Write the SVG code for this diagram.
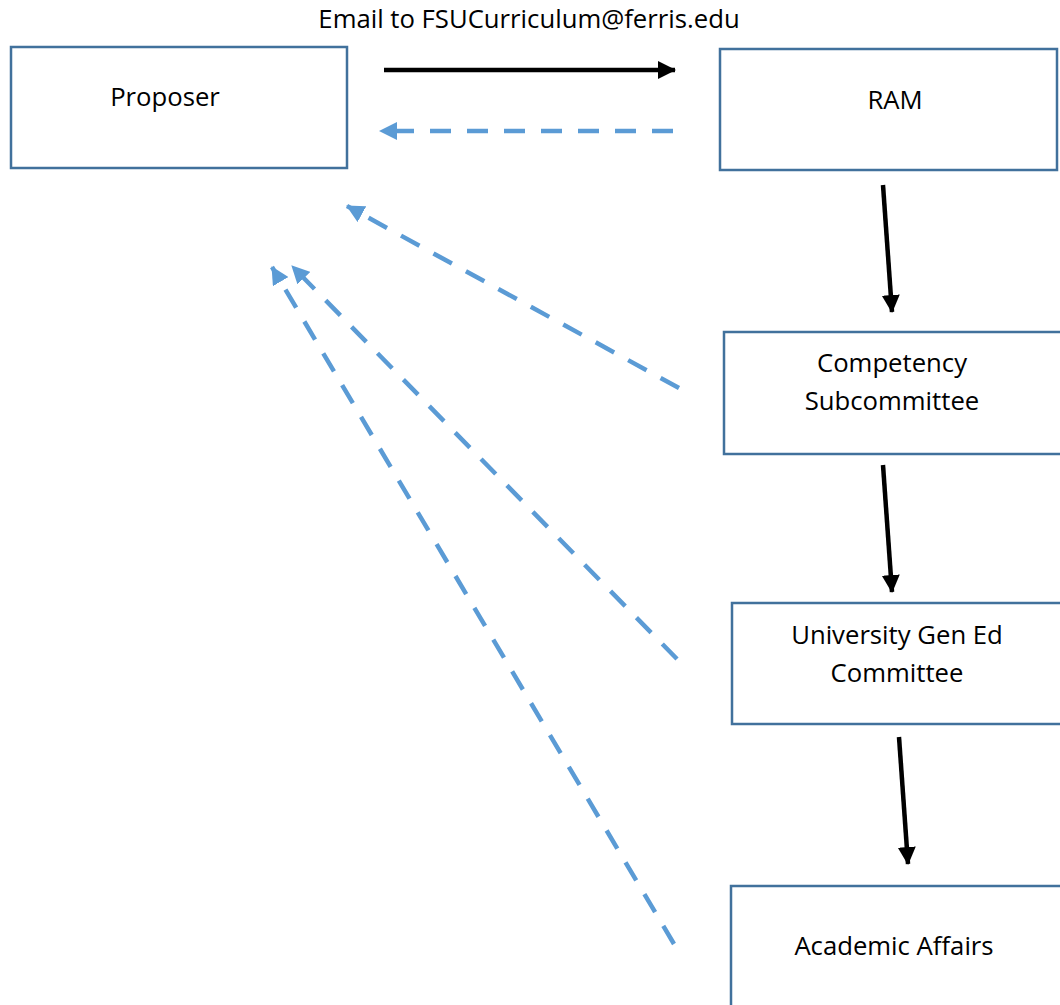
<svg xmlns="http://www.w3.org/2000/svg" width="1060" height="1005" viewBox="0 0 1060 1005">
<style>
.box{fill:#fff;stroke:#41719C;stroke-width:2.5}
.t{font-family:"Open Sans","Liberation Sans",sans-serif;font-size:25.7px;fill:#000;text-anchor:middle}
.solid{stroke:#000;stroke-width:4.5;fill:none}
.dash{stroke:#5B9BD5;stroke-width:4.5;fill:none;stroke-dasharray:21 16}
</style>
<defs>
<marker id="ab" markerUnits="userSpaceOnUse" markerWidth="18" markerHeight="18" viewBox="0 0 18 18" refX="17" refY="9" orient="auto"><path d="M0,0 L18,9 L0,18 z" fill="#000"/></marker>
<marker id="au" markerUnits="userSpaceOnUse" markerWidth="18" markerHeight="18" viewBox="0 0 18 18" refX="17" refY="9" orient="auto"><path d="M0,0 L18,9 L0,18 z" fill="#5B9BD5"/></marker>
</defs>
<rect width="1060" height="1005" fill="#fff"/>
<text class="t" x="529" y="28">Email to FSUCurriculum@ferris.edu</text>
<g id="proposer"><rect class="box" x="11" y="47" width="336" height="121"/><text class="t" x="165" y="106">Proposer</text></g>
<g id="ram"><rect class="box" x="720" y="49" width="337" height="121"/><text class="t" x="895" y="109">RAM</text></g>
<g id="competency"><rect class="box" x="724" y="332" width="340" height="122"/><text class="t" x="892" y="372">Competency</text><text class="t" x="892" y="410">Subcommittee</text></g>
<g id="gened"><rect class="box" x="732" y="603" width="335" height="121"/><text class="t" x="897" y="644">University Gen Ed</text><text class="t" x="897" y="682">Committee</text></g>
<g id="academic"><rect class="box" x="731" y="886" width="335" height="130"/><text class="t" x="894" y="955">Academic Affairs</text></g>
<g id="connectors">
<path class="solid" d="M384,70 L675,70" marker-end="url(#ab)"/>
<path class="dash" d="M673,131 L380,131" marker-end="url(#au)"/>
<path class="solid" d="M883,185 L892,312" marker-end="url(#ab)"/>
<path class="solid" d="M883,465 L892,592" marker-end="url(#ab)"/>
<path class="solid" d="M899,737 L908,864" marker-end="url(#ab)"/>
<path class="dash" d="M679,388 L347,206" marker-end="url(#au)"/>
<path class="dash" d="M677,659 L292,266" marker-end="url(#au)"/>
<path class="dash" d="M674,944 L272,267" marker-end="url(#au)"/>
</g>
</svg>
